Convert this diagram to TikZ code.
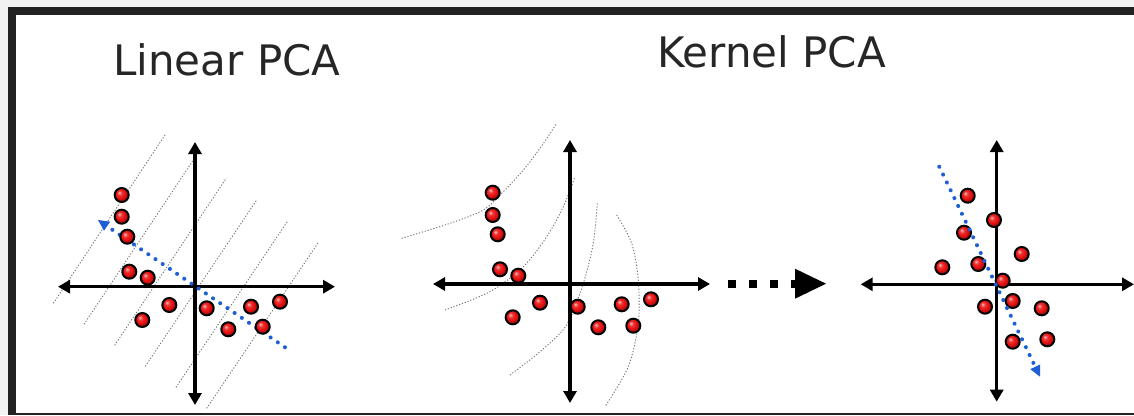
\documentclass[tikz,border=0pt]{standalone}
\usepackage{fontspec}
\setmainfont{DejaVu Sans}
\usetikzlibrary{arrows.meta}
\definecolor{framegray}{HTML}{222222}
\definecolor{outergray}{HTML}{F2F2F2}
\definecolor{pcablue}{HTML}{1F5FD6}
\definecolor{ptred}{HTML}{E81010}
\pgfdeclareradialshading{redball}{\pgfqpoint{-9bp}{9bp}}{color(0bp)=(ptred!25!white); color(8bp)=(ptred!85!white); color(17bp)=(ptred); color(25bp)=(ptred!75!black); color(50bp)=(ptred!55!black)}
\begin{document}
\begin{tikzpicture}[x=1pt,y=-1pt,
  pt/.style={circle,minimum size=14pt,inner sep=0pt,draw=black,line width=2pt,shading=redball},
  axis/.style={line width=3.2pt,{Triangle[length=12pt,width=13pt]}-{Triangle[length=12pt,width=13pt]}},
  pcadir/.style={pcablue,line width=4pt,line cap=round,dash pattern=on 0.1pt off 8.6pt,-{Triangle[length=11pt,width=11pt,line width=0pt]}},
  contour/.style={black!55,line width=0.9pt,dash pattern=on 1.2pt off 1.8pt},
  title/.style={inner sep=0pt,anchor=base west,font=\fontsize{42}{50}\selectfont,text=black!85},
  maparrow/.style={line width=8.3pt,dash pattern=on 8.3pt off 12.7pt,-{Triangle[length=31pt,width=30pt,line width=0pt]}}]
\useasboundingbox (0,0) rectangle (1134,415);
% frame
\fill[outergray] (0,0) rectangle (1134,415);
\fill[framegray] (8,7) rectangle (1134,415);
\fill[white] (16,15) rectangle (1134,412.5);
% titles
\node[title] (t1) at (113,75) {Linear PCA};
\node[title] (t2) at (657,67) {Kernel PCA};
% ---------- plot 1 ----------
\foreach \i in {0,...,5}{
  \draw[contour] ({53.3+30.67*\i},{303.3+21*\i}) -- ({165+30.67*\i},{135+21.5*\i});
}
\coordinate (a1l) at (58,286.7);
\coordinate (a1r) at (335,286.7);
\coordinate (a1t) at (195,142);
\coordinate (a1b) at (195,405);
\draw[axis] (a1l) -- (a1r);
\draw[axis] (a1t) -- (a1b);
\coordinate (b1s) at (285,347.3);
\coordinate (b1e) at (98,220);
\draw[pcadir] (b1s) -- (b1e);
\node[pt] (p1a) at (121.7,195) {};
\node[pt] (p1b) at (121.7,216.7) {};
\node[pt] (p1c) at (127.3,236.7) {};
\node[pt] (p1d) at (129.3,271.7) {};
\node[pt] (p1e) at (147.7,277.7) {};
\node[pt] (p1f) at (169.3,305) {};
\node[pt] (p1g) at (142.3,320) {};
\node[pt] (p1h) at (206.7,308.3) {};
\node[pt] (p1i) at (228.3,329.3) {};
\node[pt] (p1j) at (251,306.7) {};
\node[pt] (p1k) at (262.7,326.7) {};
\node[pt] (p1l) at (280,301.7) {};
% ---------- plot 2 ----------
\draw[contour] plot[smooth] coordinates {(401.7,238.3) (450,223.3) (483.3,210) (503.3,191.7) (523.3,170) (540,148.3) (556.7,123.3)};
\draw[contour] plot[smooth] coordinates {(445,310) (490,291.7) (523.3,266.7) (546.7,236.7) (563.3,206.7) (575,176.7)};
\draw[contour] plot[smooth] coordinates {(510,375) (540,351.7) (566.7,325) (583.3,283.3) (593.3,243.3) (597.3,203.3)};
\draw[contour] plot[smooth] coordinates {(616.7,215) (631.7,243.3) (638.3,280) (638.3,323.3) (628.3,366.7) (605,406.7)};
\coordinate (a2l) at (433,284);
\coordinate (a2r) at (710,284);
\coordinate (a2t) at (570,140);
\coordinate (a2b) at (570,403);
\draw[axis] (a2l) -- (a2r);
\draw[axis] (a2t) -- (a2b);
\node[pt] (p2a) at (492.7,192.7) {};
\node[pt] (p2b) at (492.7,215) {};
\node[pt] (p2c) at (497.7,234.3) {};
\node[pt] (p2d) at (500,269.3) {};
\node[pt] (p2e) at (518.3,275.7) {};
\node[pt] (p2f) at (540,302.7) {};
\node[pt] (p2g) at (512.7,317.3) {};
\node[pt] (p2h) at (577.7,306.7) {};
\node[pt] (p2i) at (598.3,327.3) {};
\node[pt] (p2j) at (621.7,304.3) {};
\node[pt] (p2k) at (633.3,325.7) {};
\node[pt] (p2l) at (651,299.3) {};
% ---------- mapping arrow ----------
\coordinate (ms) at (728,283.7);
\coordinate (me) at (826,283.7);
\draw[maparrow] (ms) -- (me);
% ---------- plot 3 ----------
\coordinate (a3l) at (860.7,284.3);
\coordinate (a3r) at (1134,284.3);
\coordinate (a3t) at (996.7,140);
\coordinate (a3b) at (996.7,401.7);
\draw[axis] (a3l) -- (a3r);
\draw[axis] (a3t) -- (a3b);
\node[pt] (p3a) at (967.7,195.7) {};
\node[pt] (p3b) at (994,220) {};
\node[pt] (p3c) at (964,232.7) {};
\node[pt] (p3d) at (1021.7,254) {};
\node[pt] (p3e) at (942.3,267.3) {};
\node[pt] (p3f) at (978.3,264) {};
\node[pt] (p3g) at (1002.7,280.7) {};
\node[pt] (p3h) at (985,306.7) {};
\node[pt] (p3i) at (1012.7,301) {};
\node[pt] (p3j) at (1041.7,308.3) {};
\node[pt] (p3k) at (1012.7,341.7) {};
\node[pt] (p3l) at (1047.3,339.3) {};
\coordinate (b3s) at (939.3,166.7);
\coordinate (b3e) at (1040,376.7);
\draw[pcadir] (b3s) -- (b3e);
\end{tikzpicture}
\end{document}
